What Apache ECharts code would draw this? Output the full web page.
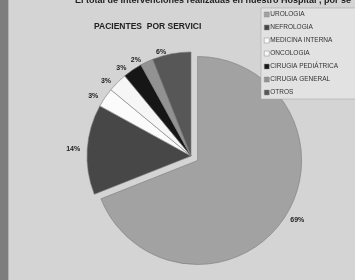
<!DOCTYPE html>
<html lang="es">
<head>
    <meta charset="utf-8">
    <title>Pacientes por servicio</title>
    <script src="https://cdn.jsdelivr.net/npm/echarts@6/dist/echarts.min.js"></script>
    <style>
        html, body { margin: 0; padding: 0; background: #d4d4d4; }
        #main { width: 355px; height: 280px; }
    </style>
</head>
<body>
    <div id="main"></div>
    <script type="text/javascript">

    // datos
    var servicios = ['UROLOGIA', 'NEFROLOGIA', 'MEDICINA INTERNA', 'ONCOLOGIA', 'CIRUGIA PEDIÁTRICA', 'CIRUGIA GENERAL', 'OTROS'];
    var porcentajes = [69, 14, 3, 3, 3, 2, 6];
    var colores = ['#a2a2a2', '#474747', '#fbfbfb', '#f6f6f6', '#161616', '#929292', '#575757'];

    var myChart = echarts.init(document.getElementById('main'));

    var datos = servicios.map(function (s, i) {
        return {
            name: s,
            value: porcentajes[i],
            selected: i === 0,
            itemStyle: { color: colores[i] }
        };
    });

    myChart.setOption({
        backgroundColor: '#d4d4d4',
        animation: false,
        graphic: [
            { type: 'rect', left: 0, top: 0, shape: { width: 8, height: 280 }, style: { fill: '#7e7e7e' } },
            { type: 'rect', left: 8, top: 0, shape: { width: 1, height: 280 }, style: { fill: '#b4b4b4' } }
        ],
        title: [{
            text: 'El total de Intervenciones realizadas en nuestro Hospital , por se',
            left: 70, top: -9,
            textStyle: { fontSize: 9, fontWeight: 'bold', color: '#1e1e1e', fontFamily: 'Liberation Sans' }
        }, {
            text: 'PACIENTES  POR SERVICI',
            left: 89, top: 17,
            textStyle: { fontSize: 8.5, fontWeight: 'bold', color: '#222', fontFamily: 'Liberation Sans' }
        }],
        legend: {
            orient: 'vertical',
            left: 261, top: 8,
            data: servicios,
            icon: 'rect',
            itemWidth: 5, itemHeight: 5, itemGap: 6,
            itemStyle: { borderColor: '#8a8a8a', borderWidth: 0.5 },
            backgroundColor: '#e2e2e2',
            borderColor: '#a0a0a0', borderWidth: 0.5,
            padding: [3, 30, 3, 3],
            textStyle: { fontSize: 6.5, color: '#333', fontFamily: 'Liberation Sans', padding: [0, 0, 0, -4] }
        },
        series: [{
            type: 'pie',
            center: [191, 156],
            radius: 104,
            startAngle: 90,
            selectedMode: 'single',
            selectedOffset: 8,
            avoidLabelOverlap: false,
            itemStyle: { borderColor: '#7a7a7a', borderWidth: 0.6 },
            label: {
                position: 'outside',
                formatter: '{c}%',
                fontSize: 7, fontWeight: 'bold', color: '#222',
                fontFamily: 'Liberation Sans'
            },
            labelLine: { show: false, length: 2, length2: 0 },
            emphasis: { disabled: true },
            data: datos
        }]
    });

    </script>
</body>
</html>
